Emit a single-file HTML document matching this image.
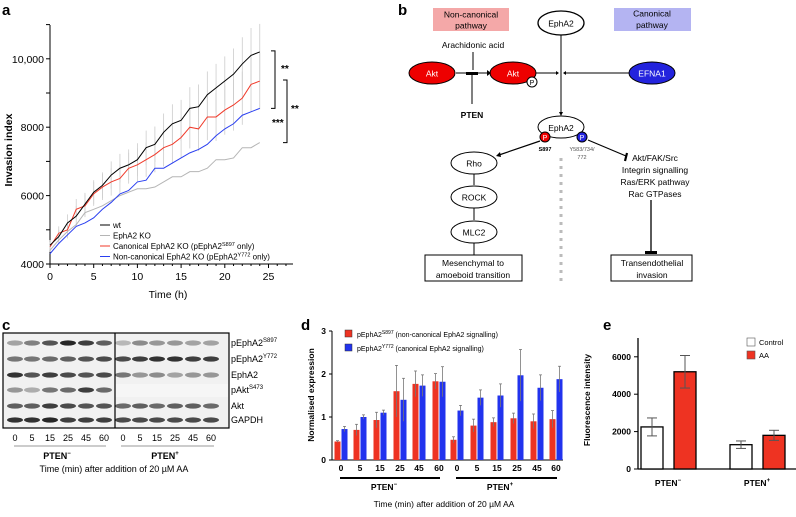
<!DOCTYPE html>
<html><head><meta charset="utf-8"><style>
body{margin:0;background:#fff;width:796px;height:512px;overflow:hidden}
svg{font-family:"Liberation Sans",Arial,sans-serif}
</style></head><body>
<svg id="fig" width="796" height="512" viewBox="0 0 796 512">
<text x="2" y="15" font-size="15" font-weight="bold">a</text>
<text x="398" y="15" font-size="15" font-weight="bold">b</text>
<text x="2" y="330" font-size="15" font-weight="bold">c</text>
<text x="301" y="330" font-size="15" font-weight="bold">d</text>
<text x="603" y="330" font-size="15" font-weight="bold">e</text>

<g id="pa"></g>

<g font-size="8.5" text-anchor="middle">
<rect x="433" y="8" width="76" height="23" fill="#f4a8a8"/>
<text x="471" y="17.5">Non-canonical</text>
<text x="471" y="28.5">pathway</text>
<rect x="614" y="8" width="77" height="23" fill="#b4b4f2"/>
<text x="652" y="16.5">Canonical</text>
<text x="652" y="28">pathway</text>
<ellipse cx="561" cy="23" rx="23" ry="12" fill="#fff" stroke="#000" stroke-width="1.3"/>
<text x="561" y="26.5">EphA2</text>
<text x="473" y="48">Arachidonic acid</text>
<line x1="473" y1="52" x2="473" y2="70" stroke="#000"/>
<ellipse cx="432" cy="73" rx="23" ry="11" fill="#e00" stroke="#000"/>
<text x="432" y="76.5" fill="#fff">Akt</text>
<ellipse cx="513" cy="73" rx="23" ry="11" fill="#e00" stroke="#000"/>
<text x="513" y="76.5" fill="#fff">Akt</text>
<circle cx="532" cy="82" r="5" fill="#fff" stroke="#000"/>
<text x="532" y="85" font-size="7">P</text>
<line x1="456" y1="73" x2="487" y2="73" stroke="#000"/><path d="M487 70 L491 73 L487 76Z"/>
<rect x="466" y="72" width="12" height="3"/>
<line x1="472" y1="75" x2="472" y2="104" stroke="#000"/>
<text x="472" y="118" font-weight="bold">PTEN</text>
<ellipse cx="652" cy="73" rx="23" ry="11" fill="#2323dd" stroke="#000"/>
<text x="652" y="76.5" fill="#fff">EFNA1</text>
<line x1="536" y1="73" x2="556" y2="73" stroke="#000"/><path d="M556 71 L559 73 L556 75Z"/>
<line x1="629" y1="73" x2="566" y2="73" stroke="#000"/><path d="M566 71 L563 73 L566 75Z"/>
<line x1="561" y1="35" x2="561" y2="113" stroke="#000"/><path d="M559 112 L561 116 L563 112Z"/>
<ellipse cx="561" cy="127" rx="23" ry="11" fill="#fff" stroke="#000"/>
<text x="561" y="131">EphA2</text>
<circle cx="545" cy="137" r="5" fill="#e00" stroke="#000"/>
<text x="545" y="140" font-size="7" fill="#fff">P</text>
<circle cx="582" cy="137" r="5" fill="#2323dd" stroke="#000"/>
<text x="582" y="140" font-size="7" fill="#fff">P</text>
<text x="545" y="151" font-size="5.5" font-weight="bold">S897</text>
<text x="582" y="151" font-size="5.5" fill="#555">Y583/734/</text>
<text x="582" y="159" font-size="5.5" fill="#555">772</text>
<line x1="540" y1="141" x2="499" y2="155" stroke="#000" stroke-width="1.2"/><path d="M500 152 L496 156 L501 157Z"/>
<line x1="588" y1="140" x2="626" y2="156" stroke="#000" stroke-width="1.2"/>
<line x1="627" y1="153" x2="625" y2="161" stroke="#000" stroke-width="2.2"/>
<ellipse cx="474" cy="163" rx="23" ry="11" fill="#fff" stroke="#000"/>
<text x="474" y="166.5">Rho</text>
<line x1="474" y1="174" x2="474" y2="185" stroke="#000"/>
<ellipse cx="474" cy="197" rx="23" ry="11" fill="#fff" stroke="#000"/>
<text x="474" y="200.5">ROCK</text>
<line x1="474" y1="208" x2="474" y2="220" stroke="#000"/>
<ellipse cx="474" cy="232" rx="23" ry="11" fill="#fff" stroke="#000"/>
<text x="474" y="235.5">MLC2</text>
<line x1="474" y1="243" x2="474" y2="255" stroke="#000"/>
<rect x="425" y="255" width="97" height="26" fill="#fff" stroke="#000"/>
<text x="473" y="266">Mesenchymal to</text>
<text x="473" y="278">amoeboid transition</text>
<line x1="561" y1="158" x2="561" y2="284" stroke="#bbb" stroke-width="3" stroke-dasharray="3,5"/>
<text x="655" y="161">Akt/FAK/Src</text>
<text x="655" y="173">Integrin signalling</text>
<text x="655" y="185">Ras/ERK pathway</text>
<text x="655" y="197">Rac GTPases</text>
<line x1="651" y1="200" x2="651" y2="252" stroke="#000" stroke-width="1.3"/>
<rect x="645" y="251" width="12" height="3"/>
<rect x="611" y="255" width="81" height="26" fill="#fff" stroke="#000"/>
<text x="652" y="266">Transendothelial</text>
<text x="652" y="278">invasion</text>
</g>

<g id="pc"></g>
<g id="pd"></g>
<g id="pe"></g>
</svg>
<script>
// ---------- Panel a data ----------
const hoursA = [0,1,2,3,4,5,6,7,8,9,10,11,12,13,14,15,16,17,18,19,20,21,22,23,24];
const wtVals = [4550,4800,5200,5400,5750,6100,6300,6600,6800,6900,7050,7400,7500,7850,8100,8200,8550,8600,8950,9150,9350,9550,9850,10100,10200];
const koVals = [4400,4700,4950,5150,5500,5600,5700,5850,6000,6100,6200,6200,6250,6400,6550,6550,6700,6700,6800,7050,7050,7100,7400,7400,7550];
const canVals = [4500,4900,5000,5600,5700,6050,6250,6400,6500,6800,6900,7050,7200,7400,7500,7700,8000,7950,8300,8300,8500,8650,8850,9250,9350];
const nonVals = [4300,4600,4850,5100,5200,5350,5600,5800,6050,6150,6400,6450,6800,6800,6950,7100,7250,7350,7500,7750,7950,8100,8350,8450,8550];
const errA = [150,200,250,300,330,350,380,400,420,450,480,500,520,550,570,600,620,650,680,700,720,750,780,800,820];
const yTicksA = [4000,6000,8000,10000];
const yTickLabelsA = ["4000","6000","8000","10,000"];
const xTicksA = [0,5,10,15,20,25];

// ---------- Panel d data ----------
const timesD = ["0","5","15","25","45","60","0","5","15","25","45","60"];
const redD = [0.43,0.70,0.93,1.60,1.77,1.83,0.47,0.80,0.88,0.97,0.90,0.95];
const redErrD = [0.02,0.13,0.18,0.60,0.30,0.18,0.07,0.15,0.10,0.12,0.17,0.20];
const blueD = [0.72,1.00,1.10,1.40,1.73,1.82,1.15,1.45,1.50,1.97,1.68,1.88];
const blueErrD = [0.06,0.05,0.06,0.50,0.25,0.35,0.12,0.18,0.27,0.60,0.30,0.30];
const yTicksD = [0,1,2,3];

// ---------- Panel e data ----------
const groupsE = ["PTEN\u2212","PTEN\u207A"];
const ctrlE = [2250,1300];
const ctrlErrE = [480,200];
const aaE = [5200,1800];
const aaErrE = [870,270];
const yTicksE = [0,2000,4000,6000];

const NS = "http://www.w3.org/2000/svg";
function mk(parent, tag, attrs, txt){
  const e = document.createElementNS(NS, tag);
  for (const k in attrs) e.setAttribute(k, attrs[k]);
  if (txt !== undefined) e.textContent = txt;
  parent.appendChild(e); return e;
}

// ===== Panel a =====
(function(){
  const g = document.getElementById('pa');
  const xA = h => 50 + h * 8.74;
  const yA = v => 264 - (v - 4000) * 0.0342;
  let ax = mk(g,'line',{x1:50,y1:25,x2:50,y2:264,stroke:'#000','stroke-width':1});
   
  ax = mk(g,'line',{x1:50,y1:264,x2:293,y2:264,stroke:'#000','stroke-width':1});
   
  for (let v=4000; v<=11000; v+=1000) mk(g,'line',{x1:46,y1:yA(v),x2:50,y2:yA(v),stroke:'#000'});
  yTicksA.forEach((v,i)=>{
    const t = mk(g,'text',{x:44,y:yA(v)+4,'font-size':10.5,'text-anchor':'end'},yTickLabelsA[i]);
     
  });
  for (let h=0; h<=27; h++) mk(g,'line',{x1:xA(h),y1:264,x2:xA(h),y2:h%5==0?268:266,stroke:'#000'});
  xTicksA.forEach(h=>{
    const t = mk(g,'text',{x:xA(h),y:280,'font-size':10.5,'text-anchor':'middle'},String(h));
     
  });
  let t = mk(g,'text',{x:168,y:298,'font-size':10.5,'text-anchor':'middle'},'Time (h)');
   
  t = mk(g,'text',{x:0,y:0,'font-size':10.5,'font-weight':'bold','text-anchor':'middle',transform:'translate(12,150) rotate(-90)'},'Invasion index');
   
  [wtVals,canVals].forEach(s=>s.forEach((v,i)=>{
    mk(g,'line',{x1:xA(hoursA[i]),y1:yA(v+errA[i]),x2:xA(hoursA[i]),y2:yA(v-errA[i]),stroke:'#ccc','stroke-width':0.8});
  }));
  const series = [[koVals,'#b5b5b5','series-epha2-ko'],[nonVals,'#2a3ff0','series-non-canonical'],[canVals,'#f03a2a','series-canonical'],[wtVals,'#000','series-wt']];
  series.forEach(([s,c,n])=>{
    const p = mk(g,'polyline',{points:s.map((v,i)=>xA(hoursA[i])+','+yA(v)).join(' '),fill:'none',stroke:c,'stroke-width':1});
     
  });
  const br = (x,v1,v2)=>{mk(g,'path',{d:`M${x-4} ${yA(v1)} H${x} V${yA(v2)} H${x-4}`,fill:'none',stroke:'#000'});};
  br(275,10230,8550); br(287,9380,7550);
  t = mk(g,'text',{x:281,y:72,'font-size':10,'font-weight':'bold'},'**');  
  t = mk(g,'text',{x:291,y:112,'font-size':10,'font-weight':'bold'},'**');  
  t = mk(g,'text',{x:272,y:126,'font-size':10,'font-weight':'bold'},'***');  
  const leg = [['wt','#000'],['EphA2 KO','#b5b5b5'],['Canonical EphA2 KO (pEphA2','#f03a2a','S897'],['Non-canonical EphA2 KO (pEphA2','#2a3ff0','Y772']];
  leg.forEach((l,i)=>{
    const y = 225 + i*10.5;
    mk(g,'line',{x1:100,y1:y,x2:110,y2:y,stroke:l[1]});
    const tt = mk(g,'text',{x:113,y:y+3,'font-size':8});
     
    tt.appendChild(document.createTextNode(l[0]));
    if (l[2]) {
      mk(tt,'tspan',{'font-size':5.5,dy:-3},l[2]);
      mk(tt,'tspan',{dy:3},' only)');
    }
  });
})();

// ===== Panel c =====
(function(){
  const g = document.getElementById('pc');
  let r = mk(g,'rect',{x:3,y:333,width:226,height:95,fill:'#f1f1f1',stroke:'#000','stroke-width':1.2});
   
  const rows = [343,359,375,390,406,420];
  const intens = [[.35,.5,.7,.9,.8,.65,.25,.45,.4,.4,.35,.35],[.55,.55,.6,.65,.7,.75,.75,.8,.85,.85,.8,.8],[.85,.7,.8,.75,.7,.75,.55,.4,.45,.35,.4,.4],[.4,.3,.55,.6,.8,.6,0,0,0,0,0,0],[.65,.65,.8,.75,.7,.7,.6,.65,.6,.65,.65,.6],[.85,.85,.9,.8,.8,.8,.75,.75,.75,.75,.75,.75]];
  const lanes = [12,29,47,65,83,101,120,137,154,172,190,208];
  mk(g,'rect',{x:115,y:384,width:113,height:13,fill:'#f6f6f6'});
  rows.forEach((y,ri)=>lanes.forEach((x,li)=>{
    const a = intens[ri][li]; if(!a) return;
    const b = mk(g,'ellipse',{cx:x+3,cy:y,rx:8,ry:2.6,fill:'#111','fill-opacity':a});
     
  }));
  mk(g,'line',{x1:115,y1:333,x2:115,y2:428,stroke:'#000','stroke-width':1.2});
  const labs = [['pEphA2','S897'],['pEphA2','Y772'],['EphA2'],['pAkt','S473'],['Akt'],['GAPDH']];
  labs.forEach((l,i)=>{
    const t = mk(g,'text',{x:231,y:rows[i]+3,'font-size':9});
     
    t.appendChild(document.createTextNode(l[0]));
    if(l[1]) mk(t,'tspan',{'font-size':6,dy:-4},l[1]);
  });
  const tl = ["0","5","15","25","45","60","0","5","15","25","45","60"];
  lanes.forEach((x,i)=>{const t=mk(g,'text',{x:x+3,y:441,'font-size':9,'text-anchor':'middle'},tl[i]);
     });
  mk(g,'line',{x1:14,y1:446,x2:106,y2:446,stroke:'#999'});
  mk(g,'line',{x1:121,y1:446,x2:214,y2:446,stroke:'#999'});
  let t = mk(g,'text',{x:57,y:459,'font-size':9,'font-weight':'bold','text-anchor':'middle'},'PTEN'); mk(t,'tspan',{'font-size':6,dy:-4},'\u2212');
   
  t = mk(g,'text',{x:165,y:459,'font-size':9,'font-weight':'bold','text-anchor':'middle'},'PTEN'); mk(t,'tspan',{'font-size':6,dy:-4},'+');
   
  t = mk(g,'text',{x:114,y:472,'font-size':9,'text-anchor':'middle'},'Time (min) after addition of 20 \u00B5M AA');
   
})();

// ===== Panel d =====
(function(){
  const g = document.getElementById('pd');
  const yD = v => 460 - v*43;
  const centers = [341,360,380,400,419,439,457,477,497,517,537,556];
  let a = mk(g,'line',{x1:332,y1:331,x2:332,y2:460,stroke:'#000'});  
  a = mk(g,'line',{x1:332,y1:460,x2:563,y2:460,stroke:'#000'});  
  yTicksD.forEach(v=>{mk(g,'line',{x1:329,y1:yD(v),x2:332,y2:yD(v),stroke:'#000'});
    const t=mk(g,'text',{x:326,y:yD(v)+3,'font-size':8.5,'font-weight':'bold','text-anchor':'end'},String(v));
     });
  let t = mk(g,'text',{x:0,y:0,'font-size':8.5,'font-weight':'bold','text-anchor':'middle',transform:'translate(314,395) rotate(-90)'},'Normalised expression');
   
  const bar=(x,v,e,c,n)=>{
    const r=mk(g,'rect',{x:x-3,y:yD(v),width:6,height:yD(0)-yD(v),fill:c});
     
    mk(g,'line',{x1:x,y1:yD(v+e),x2:x,y2:yD(v-e),stroke:'#777','stroke-width':0.8});
    mk(g,'line',{x1:x-1.5,y1:yD(v+e),x2:x+1.5,y2:yD(v+e),stroke:'#777','stroke-width':0.8});
  };
  centers.forEach((c,i)=>{bar(c-3.5,redD[i],redErrD[i],'#ee3322','bar-s897'); bar(c+3.5,blueD[i],blueErrD[i],'#2233ee','bar-y772');
    const tt=mk(g,'text',{x:c,y:471,'font-size':8.5,'font-weight':'bold','text-anchor':'middle'},timesD[i]);
     });
  mk(g,'line',{x1:340,y1:478,x2:440,y2:478,stroke:'#000','stroke-width':2});
  mk(g,'line',{x1:456,y1:478,x2:557,y2:478,stroke:'#000','stroke-width':2});
  t = mk(g,'text',{x:384,y:490,'font-size':8.5,'font-weight':'bold','text-anchor':'middle'},'PTEN'); mk(t,'tspan',{'font-size':6,dy:-4},'\u2212');
   
  t = mk(g,'text',{x:500,y:490,'font-size':8.5,'font-weight':'bold','text-anchor':'middle'},'PTEN'); mk(t,'tspan',{'font-size':6,dy:-4},'+');
   
  t = mk(g,'text',{x:444,y:507,'font-size':8.5,'text-anchor':'middle'},'Time (min) after addition of 20 \u00B5M AA');
   
  [['#ee3322','S897',' (non-canonical EphA2 signalling)'],['#2233ee','Y772',' (canonical EphA2 signalling)']].forEach((l,i)=>{
    const y=334+i*14;
    mk(g,'rect',{x:345,y:y-4,width:7,height:7,fill:l[0],stroke:'#333','stroke-width':0.5});
    const tt=mk(g,'text',{x:357,y:y+3,'font-size':7});
     
    tt.appendChild(document.createTextNode('pEphA2')); mk(tt,'tspan',{'font-size':5,dy:-3},l[1]); mk(tt,'tspan',{dy:3},l[2]);
  });
})();

// ===== Panel e =====
(function(){
  const g = document.getElementById('pe');
  const yE = v => 469 - v*0.0187;
  const gx = [641,730];
  let a=mk(g,'line',{x1:638,y1:338,x2:638,y2:469,stroke:'#000','stroke-width':1.3});  
  a=mk(g,'line',{x1:638,y1:469,x2:796,y2:469,stroke:'#000','stroke-width':1.3});  
  yTicksE.forEach(v=>{mk(g,'line',{x1:634,y1:yE(v),x2:638,y2:yE(v),stroke:'#000'});
    const t=mk(g,'text',{x:631,y:yE(v)+3,'font-size':8.5,'font-weight':'bold','text-anchor':'end'},String(v));
     });
  let t=mk(g,'text',{x:0,y:0,'font-size':8.5,'font-weight':'bold','text-anchor':'middle',transform:'translate(590,400) rotate(-90)'},'Fluorescence intensity');
   
  const bar=(x,v,e,c,n)=>{
    const r=mk(g,'rect',{x:x,y:yE(v),width:22,height:yE(0)-yE(v),fill:c,stroke:'#000','stroke-width':1.3});
     
    const cx=x+11;
    mk(g,'line',{x1:cx,y1:yE(v+e),x2:cx,y2:yE(v-e),stroke:'#555'});
    mk(g,'line',{x1:cx-5,y1:yE(v+e),x2:cx+5,y2:yE(v+e),stroke:'#555'});
    mk(g,'line',{x1:cx-5,y1:yE(v-e),x2:cx+5,y2:yE(v-e),stroke:'#555'});
  };
  groupsE.forEach((gn,i)=>{
    bar(gx[i],ctrlE[i],ctrlErrE[i],'#fff','bar-control');
    bar(gx[i]+33,aaE[i],aaErrE[i],'#ee3322','bar-aa');
    const tt=mk(g,'text',{x:gx[i]+27,y:486,'font-size':8.5,'font-weight':'bold','text-anchor':'middle'},'PTEN');
    mk(tt,'tspan',{'font-size':6,dy:-4},i==0?'\u2212':'+');
     
  });
  [['#fff','Control'],['#ee3322','AA']].forEach((l,i)=>{
    const y=342+i*13;
    mk(g,'rect',{x:747,y:y-4,width:8,height:8,fill:l[0],stroke:'#555','stroke-width':0.6});
    const tt=mk(g,'text',{x:759,y:y+3,'font-size':7.5},l[1]);
     
  });
})();
</script>
</body></html>
